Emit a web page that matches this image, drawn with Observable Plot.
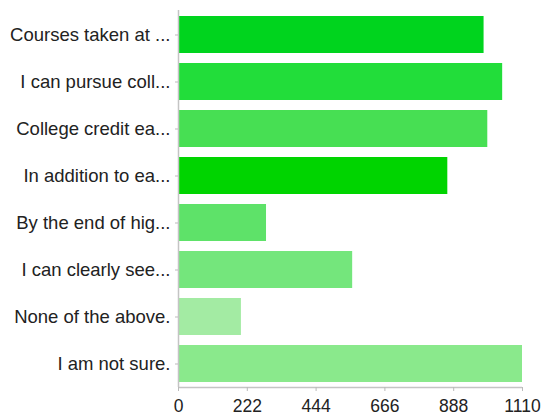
<!DOCTYPE html>
<html><head><meta charset="utf-8">
<script src="https://cdn.jsdelivr.net/npm/d3@7"></script>
<script src="https://cdn.jsdelivr.net/npm/@observablehq/plot@0.6"></script>
<style>
body{margin:0;background:#fff;}
svg{font-family:"Liberation Sans",Arial,Helvetica,sans-serif;}
</style>
</head><body>
<div id="chart"></div>
<script>
const labels = ["Courses taken at ...","I can pursue coll...","College credit ea...","In addition to ea...","By the end of hig...","I can clearly see...","None of the above.","I am not sure."];
const values = [986, 1046, 998, 869, 284, 562, 203, 1110];
const colors = ["#00d41e","#22dd3a","#47df53","#00d400","#5ee269","#74e67c","#a3eba3","#8ae98c"];
const xTicks = [0, 222, 444, 666, 888, 1110];

const data = labels.map((l, i) => ({label: l, value: values[i], color: colors[i]}));

const W = 545, H = 419, MT = 10, MB = 32;

const chart = Plot.plot({
  width: W,
  height: H,
  marginTop: MT,
  marginBottom: MB,
  marginLeft: 178,
  marginRight: 23,
  style: {fontFamily: "'Liberation Sans', Arial, Helvetica, sans-serif", color: "#222"},
  x: {domain: [0, 1110], label: null},
  y: {domain: labels, paddingInner: 0.213, paddingOuter: 0.11, label: null},
  marks: [
    Plot.barX(data, {x: "value", y: "label", fill: "color"}),
    Plot.ruleX([0], {stroke: "#c4c4c4", strokeWidth: 1.5}),
    Plot.ruleY([0], {y: null, x1: 0, x2: 1110, dy: (H - MT - MB) / 2, stroke: "#c4c4c4", strokeWidth: 1.5}),
    Plot.axisX({ticks: xTicks, tickFormat: d => String(d), stroke: "#bbb", fill: "#222", tickSize: 4, tickPadding: 8, fontSize: 17.5, label: null}),
    Plot.axisY({stroke: "#bbb", fill: "#222", tickSize: 3, tickPadding: 5, fontSize: 18.5, label: null})
  ]
});
document.getElementById("chart").appendChild(chart);
</script>
</body></html>
